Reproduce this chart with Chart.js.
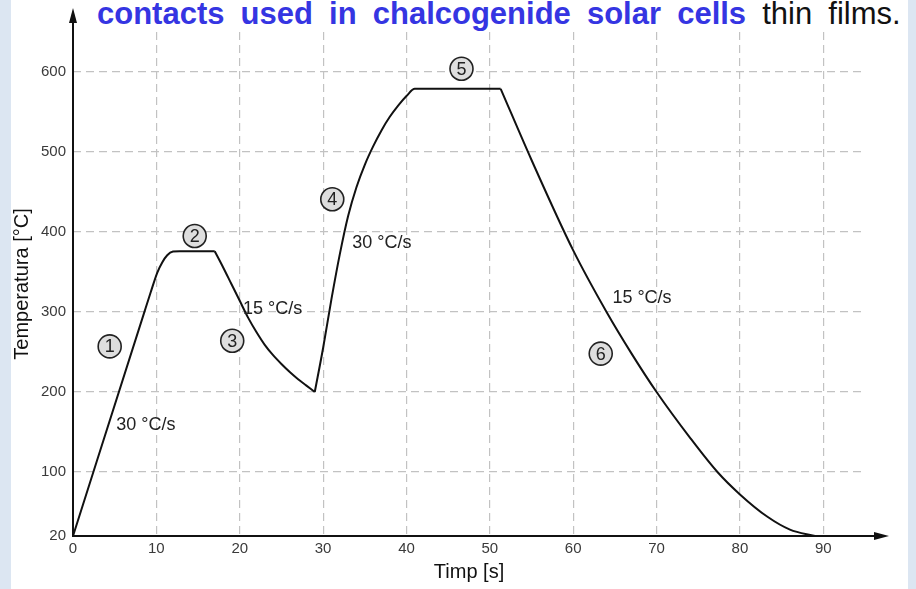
<!DOCTYPE html>
<html>
<head>
<meta charset="utf-8">
<script src="https://cdn.jsdelivr.net/npm/chart.js@4/dist/chart.umd.min.js"></script>
<style>
  html, body { margin:0; padding:0; }
  body {
    width:916px; height:589px; overflow:hidden; position:relative;
    background: linear-gradient(to right, #dce6f2 0, #dce6f2 11px, #fff 11px, #fff 908px, #dce6f2 908px);
    font-family: "Liberation Sans", Arial, sans-serif;
  }
  #c { position:absolute; left:0; top:0; }
  #head {
    position:absolute; left:97px; top:-2px; font-size:31px; line-height:31px;
    white-space:nowrap; word-spacing:7.5px; color:#111;
  }
  #head b { color:#3535e2; }
</style>
</head>
<body>
<div id="head"><b>contacts used in chalcogenide solar cells</b> thin films.</div>
<canvas id="c" width="916" height="589"></canvas>
<script>
// profil termic - timp [s] / temperatura [°C]
let timeValues = [0, 8.5, 9.3, 10.1, 10.7, 11.3, 12, 12.8, 17,
  18, 19, 20, 21, 22, 23, 24, 25, 26, 27, 28, 29,
  30, 31, 32, 33, 34, 35, 36, 37, 38, 39, 40, 41, 51.3,
  55, 60, 64, 67, 70, 74, 77.3, 80, 83.3, 86, 89];
let tempValues = [20, 298, 324, 349, 362, 371, 375.5, 376, 376,
  356, 335, 314, 293, 275, 259, 246, 235, 225, 216, 208, 200,
  255, 316, 372, 420, 456, 484, 507, 527, 544, 558, 570, 579, 579,
  490, 377, 300, 248, 200, 143, 100, 72, 44, 28, 20];
// unde curba are colt (inceput/sfarsit de etapa), ca indici in tablourile de sus
let cornerIdx = [0, 8, 20, 33, 44];

let xTicks = [0, 10, 20, 30, 40, 50, 60, 70, 80, 90];
let yTicks = [20, 100, 200, 300, 400, 500, 600];

// etichete pe grafic (x, y in unitati de date)
let stageNums = ["1", "2", "3", "4", "5", "6"];
let stageX = [4.4, 14.6, 19.1, 31.1, 46.6, 63.3];
let stageY = [257, 395, 264, 441, 604, 248];
let rateText = ["30 °C/s", "15 °C/s", "30 °C/s", "15 °C/s"];
let rateX = [5.2, 20.4, 33.5, 64.7];
let rateY = [159, 304, 386, 317];

const FONT = "'Liberation Sans', Arial, sans-serif";

let points = timeValues.map((t, i) => ({x: t, y: tempValues[i]}));
let datasets = [];
for(let k = 0; k < cornerIdx.length - 1; k++){
  datasets.push({
    data: points.slice(cornerIdx[k], cornerIdx[k+1] + 1),
    borderColor: "#111",
    borderWidth: 2,
    pointRadius: 0,
    cubicInterpolationMode: "monotone",
    fill: false
  });
}

const extras = {
  id: "extras",
  afterDatasetsDraw(chart){
    let ctx = chart.ctx;
    let xs = chart.scales.x, ys = chart.scales.y;
    ctx.save();
    // viteze
    ctx.fillStyle = "#222";
    ctx.font = "18px " + FONT;
    ctx.textAlign = "left";
    ctx.textBaseline = "middle";
    rateText.forEach((t, i)=>{
      ctx.fillText(t, xs.getPixelForValue(rateX[i]), ys.getPixelForValue(rateY[i]));
    });
    // etape (cercuri)
    stageNums.forEach((n, i)=>{
      let px = xs.getPixelForValue(stageX[i]);
      let py = ys.getPixelForValue(stageY[i]);
      ctx.beginPath();
      ctx.arc(px, py, 11.5, 0, Math.PI*2);
      ctx.fillStyle = "#dedede";
      ctx.fill();
      ctx.lineWidth = 1.6;
      ctx.strokeStyle = "#222";
      ctx.stroke();
      ctx.fillStyle = "#222";
      ctx.font = "18px " + FONT;
      ctx.textAlign = "center";
      ctx.fillText(n, px, py + 1);
    });
    ctx.restore();
  },
  afterDraw(chart){
    let ctx = chart.ctx;
    let a = chart.chartArea;
    ctx.save();
    ctx.strokeStyle = "#111";
    ctx.fillStyle = "#111";
    ctx.lineWidth = 2;
    // axa y cu sageata
    ctx.beginPath();
    ctx.moveTo(a.left, a.bottom + 1);
    ctx.lineTo(a.left, 20);
    ctx.stroke();
    ctx.beginPath();
    ctx.moveTo(a.left, 8);
    ctx.lineTo(a.left - 4, 23);
    ctx.lineTo(a.left + 4, 23);
    ctx.closePath();
    ctx.fill();
    // axa x cu sageata
    ctx.beginPath();
    ctx.moveTo(a.left - 1, a.bottom);
    ctx.lineTo(876, a.bottom);
    ctx.stroke();
    ctx.beginPath();
    ctx.moveTo(889, a.bottom);
    ctx.lineTo(874, a.bottom - 4);
    ctx.lineTo(874, a.bottom + 4);
    ctx.closePath();
    ctx.fill();
    ctx.restore();
  }
};

new Chart(document.getElementById("c"), {
  type: "line",
  data: {datasets: datasets},
  options: {
    responsive: false,
    animation: false,
    layout: {padding: {left: 10, right: 51, top: 32, bottom: 5}},
    plugins: {legend: {display: false}, tooltip: {enabled: false}},
    scales: {
      x: {
        type: "linear", min: 0, max: 95,
        afterBuildTicks: s => { s.ticks = xTicks.map(v => ({value: v})); },
        afterFit: s => { s.height = 48; },
        grid: {color: "#c2c2c2", lineWidth: 1.2, drawTicks: false},
        border: {display: false, dash: [8, 5]},
        ticks: {color: "#3a3a3a", font: {size: 15, family: FONT}, padding: 4, maxRotation: 0, autoSkip: false},
        title: {display: true, text: "Timp [s]", color: "#111", font: {size: 20, family: FONT}, padding: 0}
      },
      y: {
        min: 20, max: 650,
        afterBuildTicks: s => { s.ticks = yTicks.map(v => ({value: v})); },
        afterFit: s => { s.width = 63; },
        grid: {color: "#c2c2c2", lineWidth: 1.2, drawTicks: false},
        border: {display: false, dash: [8, 5]},
        ticks: {color: "#3a3a3a", font: {size: 15, family: FONT}, padding: 7, autoSkip: false},
        title: {display: true, text: "Temperatura [°C]", color: "#111", font: {size: 20, family: FONT}, padding: 0}
      }
    }
  },
  plugins: [extras]
});
</script>
</body>
</html>
